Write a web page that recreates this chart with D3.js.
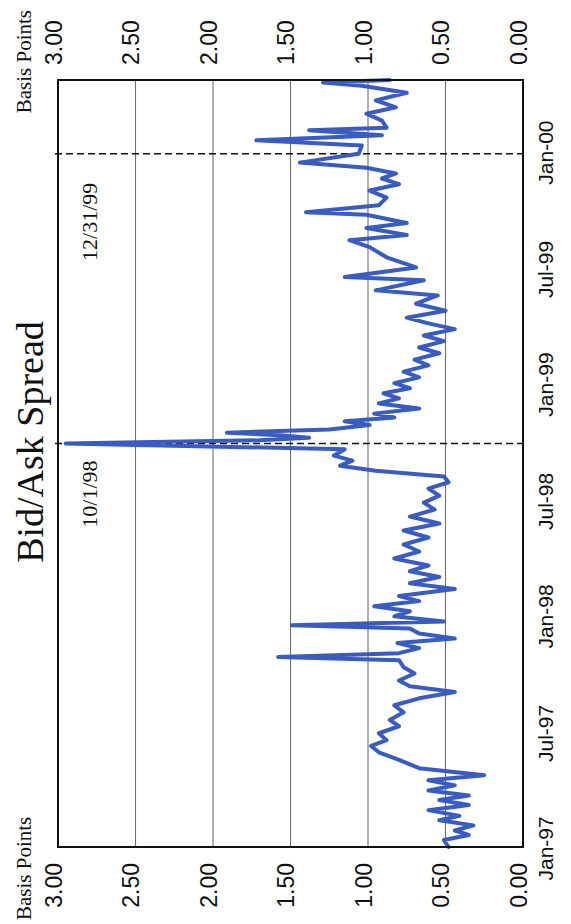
<!DOCTYPE html>
<html>
<head>
<meta charset="utf-8">
<script src="https://cdn.jsdelivr.net/npm/d3@7"></script>
<style>
  html, body { margin: 0; padding: 0; background: #fff; }
  svg { display: block; }
</style>
</head>
<body>
<svg id="chart" width="571" height="924"></svg>
<script>
// Observation dates and bid/ask spread in basis points
const dates = [
  "1997-01-04","1997-01-15","1997-01-23","1997-01-30","1997-02-07","1997-02-15","1997-02-22","1997-03-03",
  "1997-03-11","1997-03-19","1997-03-26","1997-04-03","1997-04-11","1997-04-19","1997-04-27","1997-05-08",
  "1997-05-21","1997-06-02","1997-06-12","1997-06-21","1997-07-02","1997-07-13","1997-07-23","1997-08-04",
  "1997-08-15","1997-08-26","1997-09-05","1997-09-14","1997-09-23","1997-10-04","1997-10-14","1997-10-25",
  "1997-10-30","1997-11-05","1997-11-13","1997-11-21","1997-11-28","1997-12-06","1997-12-14","1997-12-19",
  "1997-12-25","1998-01-02","1998-01-10","1998-01-18","1998-01-26","1998-02-03","1998-02-14","1998-02-23",
  "1998-03-05","1998-03-14","1998-03-23","1998-04-03","1998-04-14","1998-04-25","1998-05-06","1998-05-17",
  "1998-05-28","1998-06-08","1998-06-19","1998-06-30","1998-07-11","1998-07-22","1998-08-01","1998-08-10",
  "1998-08-19","1998-08-27","1998-09-04","1998-09-12","1998-09-22","1998-10-01","1998-10-06","1998-10-10",
  "1998-10-14","1998-10-18","1998-10-23","1998-10-30","1998-11-05","1998-11-11","1998-11-17","1998-11-25",
  "1998-12-03","1998-12-11","1998-12-19","1998-12-27","1999-01-04","1999-01-13","1999-01-22","1999-02-01",
  "1999-02-10","1999-02-20","1999-03-01","1999-03-11","1999-03-20","1999-03-30","1999-04-08","1999-04-17",
  "1999-04-28","1999-05-09","1999-05-22","1999-05-30","1999-06-15","1999-06-20","1999-07-05","1999-07-21",
  "1999-08-06","1999-08-17","1999-08-25","1999-09-05","1999-09-13","1999-09-26","1999-09-30","1999-10-11",
  "1999-10-23","1999-11-03","1999-11-13","1999-11-22","1999-11-30","1999-12-09","1999-12-17","1999-12-31",
  "2000-01-13","2000-01-21","2000-01-29","2000-02-06","2000-02-10","2000-02-21","2000-03-03","2000-03-13",
  "2000-03-24","2000-04-05","2000-04-16","2000-04-21","2000-04-25"
];
const spread = [
  0.48, 0.51, 0.35, 0.44, 0.32, 0.54, 0.41, 0.61,
  0.35, 0.54, 0.35, 0.61, 0.44, 0.61, 0.25, 0.67,
  0.80, 0.93, 0.98, 0.88, 0.93, 0.80, 0.86, 0.77,
  0.83, 0.67, 0.44, 0.73, 0.80, 0.70, 0.77, 0.80,
  1.58, 0.80, 0.67, 0.81, 0.44, 0.67, 0.73, 1.49,
  0.51, 0.83, 0.73, 0.96, 0.67, 0.80, 0.44, 0.73,
  0.54, 0.73, 0.61, 0.83, 0.67, 0.77, 0.61, 0.77,
  0.54, 0.73, 0.57, 0.64, 0.54, 0.61, 0.48, 0.51,
  0.95, 1.18, 1.10, 1.22, 1.15, 2.95, 1.70, 1.38,
  1.57, 1.91, 1.25, 0.99, 1.15, 0.83, 0.96, 0.67,
  0.93, 0.80, 0.90, 0.73, 0.83, 0.67, 0.77, 0.61,
  0.70, 0.54, 0.67, 0.51, 0.64, 0.44, 0.61, 0.75,
  0.50, 0.69, 0.55, 0.95, 0.64, 1.15, 0.69, 0.88,
  0.99, 1.12, 0.75, 1.01, 0.75, 1.01, 1.40, 0.93,
  0.88, 0.99, 0.80, 0.91, 0.82, 1.01, 1.44, 1.06,
  1.04, 1.72, 0.91, 1.38, 0.88, 0.91, 1.01, 0.82,
  0.95, 0.75, 1.04, 1.29, 0.86
];

const valueTicks = [0, 0.5, 1, 1.5, 2, 2.5, 3];
const dateTicks = ["1997-01-01","1997-07-01","1998-01-01","1998-07-01","1999-01-01","1999-07-01","2000-01-01"];
const dateTickLabels = ["Jan-97","Jul-97","Jan-98","Jul-98","Jan-99","Jul-99","Jan-00"];
const eventDates = ["1998-10-01","1999-12-31"];
const eventLabels = ["10/1/98","12/31/99"];
const chartTitle = "Bid/Ask Spread";
const unitLabel = "Basis Points";

// The chart is laid out landscape (924 x 571) and turned a quarter turn
// counter-clockwise to fill the portrait page.
const W = 924, H = 571;
const plot = { left: 77, right: 844, top: 58, bottom: 523 };
const sans = "'Liberation Sans', Arial, Helvetica, sans-serif";
const serif = "'Liberation Serif', 'Times New Roman', Times, serif";

const parse = d3.utcParse("%Y-%m-%d");
const series = dates.map((d, i) => ({ date: parse(d), value: spread[i] }));

const x = d3.scaleUtc()
  .domain([parse("1997-01-04"), parse("2000-04-25")])
  .range([plot.left, plot.right]);
const y = d3.scaleLinear().domain([0, 3]).range([plot.bottom, plot.top]);

const svg = d3.select("#chart");
svg.append("rect").attr("width", 571).attr("height", 924).attr("fill", "#fff");

const g = svg.append("g").attr("transform", `translate(0,${W}) rotate(-90)`);

// horizontal gridlines
g.append("g")
  .selectAll("line")
  .data(valueTicks.filter(v => v > 0 && v < 3))
  .join("line")
  .attr("x1", plot.left).attr("x2", plot.right)
  .attr("y1", d => y(d)).attr("y2", d => y(d))
  .attr("stroke", "#6f6f6f").attr("stroke-width", 1.1);

// event markers
g.append("g")
  .selectAll("line")
  .data(eventDates)
  .join("line")
  .attr("x1", d => x(parse(d))).attr("x2", d => x(parse(d)))
  .attr("y1", plot.top - 3).attr("y2", plot.bottom)
  .attr("stroke", "#111").attr("stroke-width", 1.6)
  .attr("stroke-dasharray", "7,4");

const labelGap = [17, 29];
g.append("g")
  .selectAll("text")
  .data(eventDates)
  .join("text")
  .attr("x", (d, i) => x(parse(d)) - labelGap[i])
  .attr("y", 97)
  .attr("text-anchor", "end")
  .attr("font-family", serif)
  .attr("font-size", 22)
  .attr("fill", "#111")
  .text((d, i) => eventLabels[i]);

// spread line
const line = d3.line()
  .x(d => x(d.date))
  .y(d => y(d.value));

g.append("path")
  .datum(series)
  .attr("d", line)
  .attr("fill", "none")
  .attr("stroke", "#3a5bbf")
  .attr("stroke-width", 4)
  .attr("stroke-linejoin", "round")
  .attr("stroke-linecap", "round");

// plot frame
g.append("rect")
  .attr("x", plot.left).attr("y", plot.top)
  .attr("width", plot.right - plot.left)
  .attr("height", plot.bottom - plot.top)
  .attr("fill", "none")
  .attr("stroke", "#111")
  .attr("stroke-width", 2);

// value axes, left and right
const fmt = d3.format(".2f");
const leftAxis = d3.axisLeft(y).tickValues(valueTicks).tickFormat(fmt).tickSize(0).tickPadding(0);
const rightAxis = d3.axisRight(y).tickValues(valueTicks).tickFormat(fmt).tickSize(0).tickPadding(0);

function styleAxis(sel) {
  sel.select(".domain").remove();
  sel.selectAll("text")
    .attr("font-family", sans)
    .attr("font-size", 23)
    .attr("fill", "#111")
    .attr("dy", "0.15em");
}

g.append("g").attr("transform", "translate(61,0)").call(leftAxis).call(styleAxis);
g.append("g").attr("transform", "translate(859,0)").call(rightAxis).call(styleAxis);

// date axis
const xAxis = d3.axisBottom(x)
  .tickValues(dateTicks.map(parse))
  .tickFormat((d, i) => dateTickLabels[i])
  .tickSize(0).tickPadding(0);

g.append("g")
  .attr("transform", "translate(0,538)")
  .call(xAxis)
  .call(sel => {
    sel.select(".domain").remove();
    sel.selectAll("text")
      .attr("font-family", sans)
      .attr("font-size", 21)
      .attr("fill", "#111");
  });

// unit captions above each value axis
g.append("text")
  .attr("x", 4).attr("y", 31)
  .attr("font-family", serif).attr("font-size", 21).attr("fill", "#111")
  .text(unitLabel);
g.append("text")
  .attr("x", 914).attr("y", 31)
  .attr("text-anchor", "end")
  .attr("font-family", serif).attr("font-size", 21).attr("fill", "#111")
  .text(unitLabel);

// title
g.append("text")
  .attr("x", 482).attr("y", 43)
  .attr("text-anchor", "middle")
  .attr("font-family", serif)
  .attr("font-size", 38)
  .attr("fill", "#111")
  .text(chartTitle);
</script>
</body>
</html>
